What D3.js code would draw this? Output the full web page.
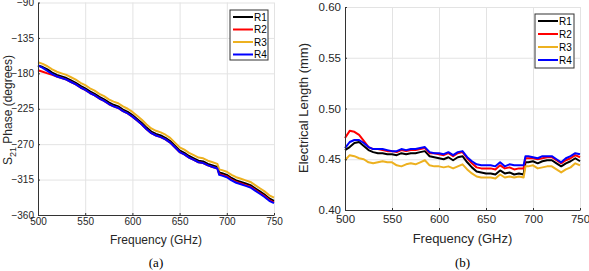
<!DOCTYPE html>
<html>
<head>
<meta charset="utf-8">
<script src="https://cdn.jsdelivr.net/npm/d3@7"></script>
<style>
  body { margin: 0; background: #fff; }
  svg { display: block; }
  text { font-family: "Liberation Sans", Arial, sans-serif; }
  .grid line { stroke: #e3e3e3; }
  .grid path { display: none; }
  .ax path, .ax line { stroke: #333; }
  .ax text { fill: #262626; }
</style>
</head>
<body>
<script>
// frequency points (GHz)
var freq = [500,505,510,515,520,525,530,535,540,545,550,555,560,565,570,575,580,585,590,595,
  600,605,610,615,620,625,630,635,640,645,650,655,660,665,670,675,680,685,690,692,
  695,700,705,710,715,720,725,730,735,740,745,750];

var series = ["R1", "R2", "R3", "R4"];
var colors = ["#000000", "#ff0000", "#edb120", "#0000ff"];

// (a) S21 phase, degrees
var phaseR1 = [-170,-172,-175,-179,-182,-184,-186,-189,-192,-196,-199,-203,-206,-210,-213,-217,-220,-222,-226,-229,
  -233,-238,-243,-249,-254,-257,-259,-262,-266,-272,-278,-281,-285,-288,-291,-292,-295,-297,-299,-306,
  -307,-309,-313,-316,-318,-320,-322,-326,-330,-334,-339,-342];
var phaseR2 = [-176,-178,-180,-182,-184,-186,-188,-191,-194,-198,-201,-205,-208,-212,-215,-219,-222,-224,-228,-231,
  -235,-240,-245,-251,-256,-259,-261,-264,-268,-274,-280,-283,-287,-290,-293,-294,-297,-299,-301,-308,
  -309,-311,-315,-318,-320,-322,-324,-328,-332,-336,-341,-344];
var phaseR3 = [-166,-168,-171,-175,-178,-180,-182,-185,-188,-192,-195,-199,-202,-206,-209,-213,-216,-218,-222,-225,
  -229,-234,-239,-245,-250,-253,-255,-258,-262,-268,-274,-277,-281,-284,-287,-288,-291,-293,-295,-302,
  -303,-305,-309,-312,-314,-316,-318,-322,-326,-330,-335,-338];
var phaseR4 = [-170,-173,-177,-181,-184,-186,-188,-191,-194,-198,-201,-205,-208,-212,-215,-219,-222,-224,-228,-231,
  -235,-240,-245,-251,-256,-259,-261,-264,-268,-274,-280,-283,-287,-290,-293,-294,-297,-299,-301,-309,
  -310,-312,-316,-319,-321,-323,-325,-329,-333,-337,-342,-345];

// (b) electrical length, mm
var lenR1 = [.459,.462,.466,.467,.463,.459,.457,.456,.456,.455,.455,.454,.456,.455,.456,.456,.457,.458,.453,.452,
  .451,.450,.452,.449,.452,.453,.447,.442,.438,.437,.436,.436,.435,.439,.436,.437,.435,.436,.435,.447,
  .447,.448,.446,.448,.449,.449,.446,.443,.446,.448,.451,.448];
var lenR2 = [.471,.478,.477,.474,.468,.462,.460,.460,.459,.458,.458,.457,.459,.458,.459,.459,.460,.461,.456,.456,
  .455,.454,.456,.453,.456,.457,.451,.446,.442,.441,.441,.441,.440,.444,.441,.442,.440,.441,.441,.451,
  .451,.451,.450,.451,.452,.452,.449,.446,.449,.451,.454,.452];
var lenR3 = [.449,.454,.453,.451,.450,.447,.446,.447,.448,.447,.447,.444,.443,.445,.446,.445,.447,.449,.444,.443,
  .443,.442,.443,.441,.443,.445,.440,.436,.433,.432,.432,.432,.431,.435,.432,.433,.432,.433,.432,.443,
  .443,.444,.441,.442,.443,.443,.440,.437,.440,.442,.446,.444];
var lenR4 = [.461,.467,.469,.469,.466,.462,.460,.460,.460,.459,.458,.458,.460,.459,.460,.460,.461,.462,.457,.456,
  .456,.455,.457,.454,.457,.458,.452,.448,.445,.444,.444,.444,.443,.447,.443,.445,.444,.444,.444,.453,
  .453,.452,.451,.453,.453,.453,.450,.447,.451,.453,.456,.455];

var xTicks = [500, 550, 600, 650, 700, 750];
var phaseTicks = [-360, -315, -270, -225, -180, -135, -90];
var lenTicks = [0.40, 0.45, 0.50, 0.55, 0.60];

var svg = d3.select("body").append("svg")
    .attr("width", 589)
    .attr("height", 271);

function panel(p) {
  var x = d3.scaleLinear().domain([500, 750]).range([p.left, p.right]);
  var y = d3.scaleLinear().domain(p.ydomain).range([p.bottom, p.top]);

  // grid
  svg.append("g").attr("class", "grid")
      .attr("transform", "translate(0," + p.bottom + ")")
      .call(d3.axisBottom(x).tickValues(xTicks).tickSize(p.top - p.bottom).tickFormat(""));
  svg.append("g").attr("class", "grid")
      .attr("transform", "translate(" + p.left + ",0)")
      .call(d3.axisLeft(y).tickValues(p.yticks).tickSize(p.left - p.right).tickFormat(""));

  // lines
  var line = d3.line()
      .x(function(d, i) { return x(freq[i]); })
      .y(function(d) { return y(d); });
  p.data.forEach(function(vals, k) {
    svg.append("path")
        .datum(vals)
        .attr("fill", "none")
        .attr("stroke", colors[k])
        .attr("stroke-width", 2)
        .attr("stroke-linejoin", "round")
        .attr("d", line);
  });

  // axes
  var xa = svg.append("g").attr("class", "ax")
      .attr("transform", "translate(0," + p.bottom + ")")
      .call(d3.axisBottom(x).tickValues(xTicks).tickSize(-2).tickSizeOuter(0).tickPadding(p.xpad));
  xa.selectAll("text").style("font-size", p.fs + "px");
  var ya = svg.append("g").attr("class", "ax")
      .attr("transform", "translate(" + p.left + ",0)")
      .call(d3.axisLeft(y).tickValues(p.yticks).tickSize(-2).tickSizeOuter(0).tickPadding(4)
        .tickFormat(p.yfmt));
  ya.selectAll("text").style("font-size", p.fs + "px");

  // x label
  svg.append("text")
      .attr("x", (p.left + p.right) / 2)
      .attr("y", p.bottom + p.lyoff)
      .attr("text-anchor", "middle")
      .style("font-size", p.lfs + "px")
      .attr("fill", "#262626")
      .text("Frequency (GHz)");

  // panel caption
  svg.append("text")
      .attr("x", (p.left + p.right) / 2)
      .attr("y", 267)
      .attr("text-anchor", "middle")
      .style("font-family", "'Liberation Serif', 'Times New Roman', serif")
      .style("font-size", "13px")
      .text(p.caption);

  // legend
  var lg = svg.append("g").attr("transform", "translate(" + p.lx + "," + p.ly + ")");
  lg.append("rect")
      .attr("width", p.lw).attr("height", p.lh)
      .attr("fill", "#fff").attr("stroke", "#333").attr("stroke-width", 1);
  series.forEach(function(s, k) {
    var yy = 7 + k * p.lstep;
    lg.append("line")
        .attr("x1", 3).attr("x2", 23).attr("y1", yy).attr("y2", yy)
        .attr("stroke", colors[k]).attr("stroke-width", 2);
    lg.append("text")
        .attr("x", 24).attr("y", yy + 3.5)
        .style("font-size", "10px")
        .attr("fill", "#000")
        .text(s);
  });
  return {x: x, y: y};
}

panel({
  left: 38, right: 274, top: 2.5, bottom: 215,
  ydomain: [-360, -90], yticks: phaseTicks, yfmt: d3.format("d"),
  data: [phaseR1, phaseR2, phaseR3, phaseR4],
  fs: 10, lfs: 12, lyoff: 29, xpad: 3, caption: "(a)",
  lx: 230, ly: 10, lw: 38, lh: 50, lstep: 12.5
});

panel({
  left: 345, right: 580, top: 7, bottom: 210,
  ydomain: [0.40, 0.60], yticks: lenTicks, yfmt: d3.format(".2f"),
  data: [lenR1, lenR2, lenR3, lenR4],
  fs: 11.5, lfs: 13, lyoff: 33, xpad: 5, caption: "(b)",
  lx: 535, ly: 14, lw: 39, lh: 54, lstep: 13
});

// y titles
var t1 = svg.append("text")
    .attr("transform", "translate(12,110) rotate(-90)")
    .attr("text-anchor", "middle")
    .style("font-size", "12px")
    .attr("fill", "#262626");
t1.append("tspan").text("S");
t1.append("tspan").attr("dy", 4).style("font-size", "9px").text("21");
t1.append("tspan").attr("dy", -4).text(" Phase (degrees)");

svg.append("text")
    .attr("transform", "translate(308,108) rotate(-90)")
    .attr("text-anchor", "middle")
    .style("font-size", "13px")
    .attr("fill", "#262626")
    .text("Electrical Length (mm)");
</script>
</body>
</html>
